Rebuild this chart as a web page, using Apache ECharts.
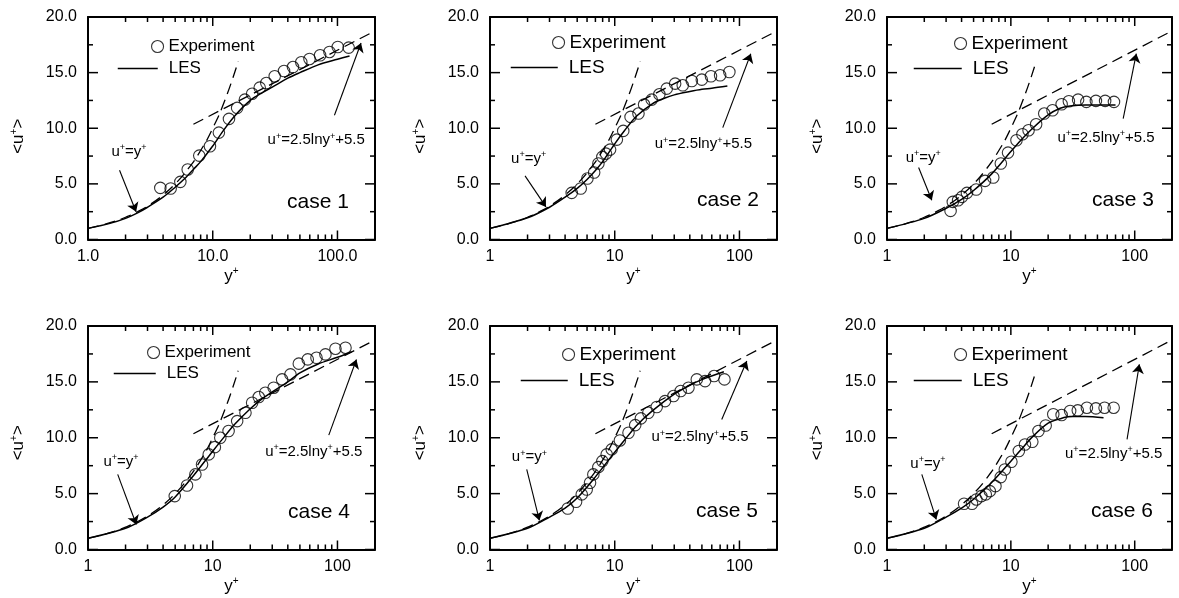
<!DOCTYPE html>
<html>
<head>
<meta charset="utf-8">
<script src="https://cdn.jsdelivr.net/npm/echarts@6/dist/echarts.min.js"></script>
<style>
html,body{margin:0;padding:0;background:#fff;}
#chart{width:1179px;height:598px;}
</style>
</head>
<body>
<div id="chart"></div>
<script>
const caseLabels = ['case 1', 'case 2', 'case 3', 'case 4', 'case 5', 'case 6'];
const legendNames = ['Experiment', 'LES'];
const xMajorTicks = [1, 10, 100];
const xMinorTicks = [2, 3, 4, 5, 6, 7, 8, 9, 20, 30, 40, 50, 60, 70, 80, 90, 200];
const yMajorTicks = [0, 5, 10, 15, 20];
const yMinorTicks = [2.5, 7.5, 12.5, 17.5];
const xTickLabelsDecimal = ['1.0', '10.0', '100.0'];
const xTickLabelsInteger = ['1', '10', '100'];

const expY1 = [3.8, 4.6, 5.5, 6.3, 7.8, 9.5, 11.2, 13.5, 15.7, 18.1, 20.7, 23.8, 26.9, 31.4, 37.3, 44, 51.3, 59.7, 72.6, 86.3, 100.6, 123];
const expU1 = [4.64, 4.58, 5.18, 6.29, 7.54, 8.38, 9.61, 10.84, 11.83, 12.57, 13.1, 13.65, 14.07, 14.67, 15.15, 15.5, 15.93, 16.23, 16.56, 16.86, 17.3, 17.25];
const expY2 = [4.52, 5.34, 6.04, 6.84, 7.4, 7.96, 8.51, 9.18, 10.4, 11.7, 13.4, 15.5, 17.2, 19.8, 22.8, 26.1, 30.5, 35.1, 41.5, 49.9, 59.1, 70, 83];
const expU2 = [4.19, 4.58, 5.48, 6.02, 6.83, 7.43, 7.72, 8.08, 8.98, 9.76, 11.02, 11.32, 12.13, 12.57, 13.05, 13.56, 14.01, 13.86, 14.25, 14.37, 14.67, 14.76, 15.06];
const expY3 = [3.26, 3.4, 3.75, 4.03, 4.42, 5.25, 6.19, 7.21, 8.3, 9.49, 11.1, 12.4, 13.9, 16, 18.6, 21.7, 25.7, 29.4, 34.9, 40.7, 48.6, 57.7, 68];
const expU3 = [2.57, 3.38, 3.53, 3.83, 4.19, 4.49, 5.27, 5.57, 6.83, 7.81, 8.92, 9.46, 9.82, 10.36, 11.32, 11.62, 12.16, 12.43, 12.57, 12.37, 12.46, 12.46, 12.37];
const expY4 = [4.96, 6.22, 7.26, 8.21, 9.29, 10.4, 11.5, 13.4, 15.7, 18.3, 20.7, 23.4, 26.4, 30.8, 36, 42, 49, 57.8, 67.9, 80.1, 96.4, 116];
const expU4 = [4.78, 5.73, 6.72, 7.61, 8.51, 9.16, 10.0, 10.6, 11.49, 12.24, 13.13, 13.64, 14.03, 14.48, 15.22, 15.67, 16.63, 17.01, 17.16, 17.46, 17.97, 18.06];
const expY5 = [4.2, 4.9, 5.44, 5.96, 6.34, 6.74, 7.39, 7.96, 8.62, 9.46, 11.0, 12.9, 14.6, 16.2, 18.6, 21.7, 25.3, 29.6, 33.8, 39, 45.5, 53, 62.6, 75.8];
const expU5 = [3.67, 4.27, 4.93, 5.37, 5.97, 6.72, 7.37, 7.91, 8.51, 8.96, 9.76, 10.45, 11.13, 11.73, 12.24, 12.75, 13.28, 13.73, 14.18, 14.48, 15.22, 15.07, 15.52, 15.22];
const expY6 = [4.19, 4.86, 5.27, 5.78, 6.27, 6.76, 7.51, 8.29, 8.94, 10.1, 11.6, 13.0, 14.9, 16.7, 19.1, 22.0, 25.7, 30.1, 34.7, 41.1, 48.6, 57.1, 67.6];
const expU6 = [4.09, 4.09, 4.48, 4.78, 4.93, 5.22, 5.67, 6.48, 7.16, 7.85, 8.81, 9.4, 9.64, 10.6, 11.1, 12.1, 12.03, 12.39, 12.45, 12.69, 12.63, 12.69, 12.69];

const lesY1 = [1, 1.5, 2, 2.5, 3, 4, 5, 6, 7, 8, 10, 12, 15, 20, 25, 30, 40, 50, 70, 100, 125];
const lesU1 = [1.0, 1.45, 1.9, 2.4, 2.9, 3.8, 4.7, 5.5, 6.3, 7.0, 8.4, 9.7, 11.1, 12.5, 13.2, 13.7, 14.5, 15.0, 15.7, 16.2, 16.5];
const lesY2 = [1, 2, 3, 4, 5, 6, 7, 8, 10, 12, 15, 20, 25, 30, 40, 50, 60, 80];
const lesU2 = [1.0, 1.95, 2.9, 3.8, 4.6, 5.4, 6.2, 7.0, 8.6, 9.8, 11.1, 12.2, 12.7, 13.0, 13.3, 13.5, 13.6, 13.8];
const lesY3 = [1, 2, 3, 4, 5, 7, 10, 12, 15, 20, 25, 30, 40, 50, 70];
const lesU3 = [1.0, 1.9, 2.8, 3.6, 4.4, 5.9, 7.9, 8.9, 10.0, 11.2, 11.8, 12.0, 12.1, 12.1, 12.1];
const lesY4 = [1, 2, 3, 4, 5, 7, 10, 12, 15, 20, 25, 30, 40, 50, 70, 100, 130];
const lesU4 = [1.0, 1.9, 2.9, 3.8, 4.7, 6.6, 8.8, 9.9, 11.2, 12.6, 13.5, 14.1, 15.0, 15.8, 16.6, 17.2, 17.7];
const lesY5 = [1, 2, 3, 4, 5, 7, 10, 12, 15, 20, 30, 40, 50, 75];
const lesU5 = [1.0, 1.9, 2.9, 3.7, 4.6, 6.5, 8.7, 9.8, 11.1, 12.4, 13.9, 14.7, 15.2, 15.9];
const lesY6 = [1, 2, 3, 4, 5, 7, 10, 12, 15, 20, 25, 30, 40, 56];
const lesU6 = [1.0, 1.9, 2.9, 3.7, 4.5, 6.0, 7.9, 8.9, 10.1, 11.3, 11.7, 11.9, 11.9, 11.8];

const linLawY = [1, 1.25, 1.6, 2, 2.5, 3.2, 4, 5, 6.3, 8, 10, 12.6, 16];
const linLawU = [1, 1.25, 1.6, 2, 2.5, 3.2, 4, 5, 6.3, 8, 10, 12.6, 16];
const logLawY = [7, 200];
const logLawU = [10.36, 18.75];

const expYPlus = [expY1, expY2, expY3, expY4, expY5, expY6];
const expUPlus = [expU1, expU2, expU3, expU4, expU5, expU6];
const lesYPlus = [lesY1, lesY2, lesY3, lesY4, lesY5, lesY6];
const lesUPlus = [lesU1, lesU2, lesU3, lesU4, lesU5, lesU6];

const FONT = "'Liberation Sans', Arial, Helvetica, sans-serif";
const X_MIN = 1, X_MAX = 200, Y_MIN = 0, Y_MAX = 20;
const panelLayout = [
  {left: 88, top: 17, width: 287, height: 222.5, xLabels: xTickLabelsDecimal, legendFont: 17, namePad: 16,
   expLegend: [151, 38], lesLegend: [117, 60, 40], caseText: [287, 192],
   linText: [2.13, 7.87], linArrow: [[1.79, 6.23], [2.43, 2.49]],
   logText: [67.6, 8.92], logArrow: [[94.6, 11.17], [154.5, 17.66]]},
  {left: 490, top: 17, width: 287, height: 222.5, xLabels: xTickLabelsInteger, legendFont: 19, namePad: 16,
   expLegend: [552, 33], lesLegend: [510, 58, 47], caseText: [697, 190],
   linText: [2.04, 7.28], linArrow: [[1.91, 5.72], [2.81, 2.93]],
   logText: [51.4, 8.56], logArrow: [[73.5, 10.06], [123.3, 16.7]]},
  {left: 887, top: 17, width: 285, height: 222.5, xLabels: xTickLabelsInteger, legendFont: 19, namePad: 16,
   expLegend: [954, 34], lesLegend: [913, 59, 48], caseText: [1092, 190],
   linText: [1.96, 7.37], linArrow: [[1.8, 6.47], [2.3, 3.53]],
   logText: [58.7, 9.16], logArrow: [[80.7, 10.87], [103, 16.7]]},
  {left: 88, top: 326, width: 287, height: 223.5, xLabels: xTickLabelsInteger, legendFont: 17, namePad: 10,
   expLegend: [147, 344], lesLegend: [113, 365, 42], caseText: [288, 502],
   linText: [1.84, 7.85], linArrow: [[1.73, 6.72], [2.44, 2.24]],
   logText: [64.6, 8.75], logArrow: [[85.2, 10.24], [142, 17.0]]},
  {left: 490, top: 326, width: 287, height: 223.5, xLabels: xTickLabelsInteger, legendFont: 19, namePad: 10,
   expLegend: [562, 345], lesLegend: [520, 371, 47], caseText: [696, 501],
   linText: [2.07, 8.27], linArrow: [[1.97, 7.16], [2.49, 2.6]],
   logText: [48.3, 10.06], logArrow: [[72.1, 11.64], [114.5, 16.87]]},
  {left: 887, top: 326, width: 285, height: 223.5, xLabels: xTickLabelsInteger, legendFont: 19, namePad: 10,
   expLegend: [954, 345], lesLegend: [913, 371, 48], caseText: [1091, 501],
   linText: [2.14, 7.67], linArrow: [[1.91, 6.72], [2.5, 2.69]],
   logText: [67.6, 8.57], logArrow: [[86.7, 9.85], [109, 16.57]]}
];
const TICK_MAJOR_PX = 9, TICK_MINOR_PX = 5;

function supRich(size) {
  const s = Math.round(size * 0.6);
  return {
    m: {fontSize: size, fontFamily: FONT, color: '#000', lineHeight: size + 2},
    s: {fontSize: s, fontFamily: FONT, color: '#000', verticalAlign: 'top', lineHeight: s}
  };
}
const linLawText = '{m|u}{s|+}{m|=y}{s|+}';
const logLawText = '{m|u}{s|+}{m|=2.5lny}{s|+}{m|+5.5}';
const xNameText = '{m|y}{s|+}';
const yNameText = '{m|<u}{s|+}{m|>}';

const option = {
  animation: false,
  backgroundColor: '#ffffff',
  textStyle: {fontFamily: FONT, color: '#000'},
  grid: [], xAxis: [], yAxis: [], series: [], legend: [], graphic: []
};

panelLayout.forEach(function (p, i) {
  option.grid.push({left: p.left, top: p.top, width: p.width, height: p.height, containLabel: false, show: false});
  const xBase = {type: 'log', logBase: 10, min: X_MIN, max: X_MAX, gridIndex: i, splitLine: {show: false},
    axisTick: {show: false}, minorTick: {show: false}};
  const yBase = {type: 'value', min: Y_MIN, max: Y_MAX, interval: 5, gridIndex: i, splitLine: {show: false},
    axisTick: {show: false}, minorTick: {show: false}};

  option.xAxis.push(Object.assign({}, xBase, {
    position: 'bottom',
    axisLine: {show: true, onZero: false, lineStyle: {color: '#000', width: 2}},
    axisLabel: {
      show: true, customValues: xMajorTicks, fontSize: 16, color: '#000', margin: 9, fontFamily: FONT,
      formatter: function (v) { return p.xLabels[Math.round(Math.log10(v))]; }
    },
    name: xNameText, nameLocation: 'middle', nameGap: 27,
    nameTextStyle: {rich: supRich(17)}
  }));
  option.xAxis.push(Object.assign({}, xBase, {
    position: 'top',
    axisLine: {show: true, onZero: false, lineStyle: {color: '#000', width: 2}},
    axisLabel: {show: false}
  }));

  option.yAxis.push(Object.assign({}, yBase, {
    position: 'left',
    axisLine: {show: true, onZero: false, lineStyle: {color: '#000', width: 2}},
    axisLabel: {show: true, fontSize: 16, color: '#000', margin: 11, fontFamily: FONT,
      formatter: function (v) { return v.toFixed(1); }},
    name: yNameText, nameLocation: 'middle', nameGap: 60, nameRotate: 90,
    nameTextStyle: {rich: supRich(17), padding: [0, p.namePad, 0, 0]}
  }));
  option.yAxis.push(Object.assign({}, yBase, {
    position: 'right',
    axisLine: {show: true, onZero: false, lineStyle: {color: '#000', width: 2}},
    axisLabel: {show: false}
  }));

  const xi = i * 2, yi = i * 2;
  const expData = expYPlus[i].map(function (v, k) { return [v, expUPlus[i][k]]; });
  const lesData = lesYPlus[i].map(function (v, k) { return [v, lesUPlus[i][k]]; });
  const linData = linLawY.map(function (v, k) { return [v, linLawU[k]]; });
  const logData = logLawY.map(function (v, k) { return [v, logLawU[k]]; });

  option.series.push({
    name: 'u+=y+', type: 'line', xAxisIndex: xi, yAxisIndex: yi, data: linData,
    smooth: true, symbol: 'none', silent: true,
    lineStyle: {color: '#000', width: 1.3, type: [11, 6]}, z: 2
  });
  option.series.push({
    name: 'log law', type: 'line', xAxisIndex: xi, yAxisIndex: yi, data: logData,
    symbol: 'none', silent: true,
    lineStyle: {color: '#000', width: 1.3, type: [11, 6]}, z: 2
  });
  option.series.push({
    name: 'LES', type: 'line', xAxisIndex: xi, yAxisIndex: yi, data: lesData,
    smooth: 0.3, symbol: 'none', showSymbol: false, silent: true,
    lineStyle: {color: '#000', width: 1.5}, z: 3,
    markLine: {
      silent: true, symbol: ['none', 'arrow'], symbolSize: 9,
      itemStyle: {color: '#000'},
      lineStyle: {type: 'solid', color: '#000', width: 1.1},
      label: {show: false},
      data: [
        [{coord: p.linArrow[0]}, {coord: p.linArrow[1]}],
        [{coord: p.logArrow[0]}, {coord: p.logArrow[1]}]
      ]
    },
    markPoint: {
      silent: true, symbol: 'circle', symbolSize: 1,
      itemStyle: {color: 'rgba(0,0,0,0)'},
      label: {show: true, position: 'inside', rich: supRich(15),
        formatter: function (d) { return d.name === 'lin' ? linLawText : logLawText; }},
      data: [
        {name: 'lin', coord: p.linText},
        {name: 'log', coord: p.logText}
      ]
    }
  });
  option.series.push({
    name: 'Experiment', type: 'scatter', xAxisIndex: xi, yAxisIndex: yi, data: expData,
    symbol: 'circle', symbolSize: 11.5, silent: true,
    itemStyle: {color: 'rgba(0,0,0,0)', borderColor: '#000', borderWidth: 1.1}, z: 4
  });

  option.legend.push({
    data: [{name: legendNames[0], icon: 'circle'}],
    left: p.expLegend[0], top: p.expLegend[1], padding: 0, selectedMode: false,
    itemWidth: 12, itemHeight: 12,
    itemStyle: {color: 'rgba(0,0,0,0)', borderColor: '#000', borderWidth: 1.1},
    textStyle: {fontSize: p.legendFont, color: '#000', fontFamily: FONT}
  });
  option.legend.push({
    data: [{name: legendNames[1]}],
    left: p.lesLegend[0], top: p.lesLegend[1], padding: 0, selectedMode: false,
    itemWidth: p.lesLegend[2], itemHeight: 12,
    itemStyle: {opacity: 0},
    lineStyle: {color: '#000', width: 1.5, opacity: 1},
    textStyle: {fontSize: p.legendFont, color: '#000', fontFamily: FONT, padding: [0, 0, 0, 6]}
  });

  option.graphic.push({
    type: 'text', left: p.caseText[0], top: p.caseText[1], silent: true,
    style: {text: caseLabels[i], fill: '#000', font: '21px ' + FONT}
  });
});

const chart = echarts.init(document.getElementById('chart'), null, {renderer: 'canvas'});
chart.setOption(option);

// inward tick marks on all four frame sides, placed with the axes' own scales
const tickElements = [];
panelLayout.forEach(function (p, i) {
  const finder = {xAxisIndex: i * 2, yAxisIndex: i * 2};
  const lb = chart.convertToPixel(finder, [X_MIN, Y_MIN]);
  const rt = chart.convertToPixel(finder, [X_MAX, Y_MAX]);
  const left = lb[0], bottom = lb[1], right = rt[0], top = rt[1];
  function line(x1, y1, x2, y2) {
    tickElements.push({type: 'line', silent: true, z: 100,
      shape: {x1: x1, y1: y1, x2: x2, y2: y2},
      style: {stroke: '#000', lineWidth: 1.5}});
  }
  [[xMajorTicks, TICK_MAJOR_PX], [xMinorTicks, TICK_MINOR_PX]].forEach(function (t) {
    t[0].forEach(function (v) {
      const px = chart.convertToPixel(finder, [v, Y_MIN])[0];
      line(px, bottom, px, bottom - t[1]);
      line(px, top, px, top + t[1]);
    });
  });
  [[yMajorTicks, TICK_MAJOR_PX + 1], [yMinorTicks, TICK_MINOR_PX]].forEach(function (t) {
    t[0].forEach(function (v) {
      const py = chart.convertToPixel(finder, [X_MIN, v])[1];
      line(left, py, left + t[1], py);
      line(right, py, right - t[1], py);
    });
  });
});
chart.setOption({graphic: option.graphic.concat(tickElements)});
</script>
</body>
</html>
